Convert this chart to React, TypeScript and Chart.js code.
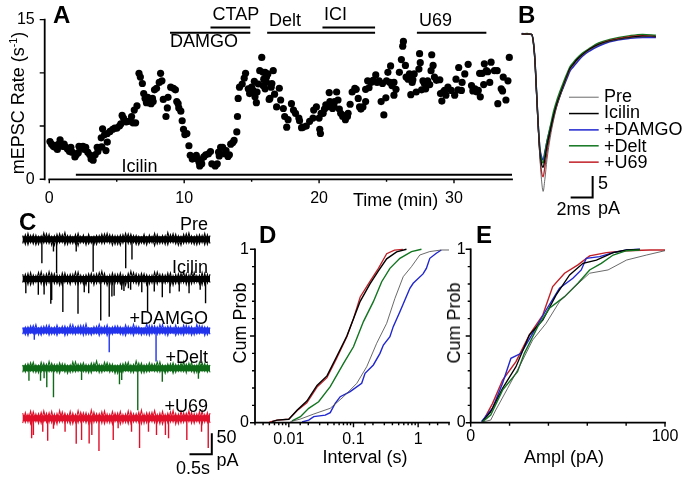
import React, { useEffect, useRef } from "react";
import Chart from "chart.js/auto";

const FONT = "'Liberation Sans', Arial, sans-serif";
const GUTTER = 40;

// ---------- Panel A: mEPSC rate over time [min, events/s]
const ratePoints: number[][] = [
  [0.05,3.55],[0.17,3.3],[0.3,3.1],[0.42,3.0],[0.5,3.2],[0.6,2.8],[0.7,3.3],[0.8,3.7],[0.95,3.25],[1.0,3.1],[1.1,3.3],[1.2,3.05],[1.35,2.85],[1.5,2.6],[1.6,3.0],[1.7,2.55],[1.9,2.1],[2.0,2.3],[2.15,2.5],[2.2,3.1],[2.35,3.05],[2.5,3.1],[2.6,2.8],[2.7,3.0],[2.85,2.55],[3.0,2.3],[3.1,1.9],[3.25,1.8],[3.4,2.3],[3.55,3.0],[3.6,2.6],[3.75,3.0],[3.9,3.05],[4.2,2.7],[4.3,3.5],[3.85,3.9],[3.95,4.75],[4.1,4.2],[4.3,4.3],[4.5,4.5],[4.7,4.7],[4.85,4.8],[5.0,4.8],[5.2,5.0],[5.3,5.2],[5.4,6.0],[5.5,5.75],[5.7,5.4],[5.85,5.45],[6.0,5.5],[6.1,5.9],[6.2,5.3],[6.4,5.3],[6.3,6.5],[6.5,6.9],[6.65,9.95],[6.75,9.6],[6.9,9.0],[7.0,8.05],[7.1,7.6],[7.2,7.2],[7.3,7.7],[7.4,7.2],[7.55,7.1],[7.65,7.6],[7.7,7.3],[7.8,8.4],[7.95,8.55],[8.15,9.1],[8.25,9.95],[8.35,9.25],[8.45,7.5],[8.65,5.9],[8.75,6.7],[8.8,7.7],[9.0,8.65],[9.2,8.55],[9.35,8.4],[9.45,7.3],[9.55,7.1],[9.6,6.7],[9.75,6.4],[9.85,5.5],[9.95,4.7],[10.05,4.2],[10.2,4.3],[10.35,3.15],[10.45,2.25],[10.6,1.9],[10.8,2.0],[10.9,2.25],[11.0,1.9],[11.1,1.6],[11.15,1.25],[11.25,1.8],[11.3,1.45],[11.45,2.1],[11.6,2.3],[11.8,2.4],[11.95,2.6],[12.05,1.45],[12.3,1.25],[12.45,1.45],[12.55,2.55],[12.6,2.2],[12.7,3.0],[12.85,3.0],[13.0,2.4],[13.1,2.7],[13.25,2.15],[13.35,2.3],[13.45,3.3],[13.6,3.45],[13.7,3.65],[13.9,4.45],[13.95,5.9],[14.0,7.6],[14.1,8.65],[14.3,8.95],[14.45,9.5],[14.55,9.95],[14.75,8.5],[14.85,8.05],[15.0,8.65],[15.1,8.35],[15.2,9.2],[15.25,7.75],[15.35,7.2],[15.4,8.2],[15.5,8.95],[15.6,10.2],[15.75,11.45],[15.85,10.05],[15.9,9.4],[16.0,8.5],[16.1,9.6],[16.3,7.5],[16.2,9.9],
  [15.85,8.8],[16.0,10.05],[16.1,9.1],[16.35,7.6],[16.45,8.65],[16.5,9.0],[16.6,10.2],[16.7,8.0],[16.85,6.8],[17.05,8.55],[17.15,7.45],[17.35,6.65],[17.45,5.9],[17.7,5.6],[17.6,4.9],[17.95,7.1],[18.1,6.5],[18.25,6.2],[18.5,5.75],[18.55,5.5],[18.7,4.85],[18.8,4.9],[19.05,5.0],[19.3,5.45],[19.55,5.75],[19.6,6.5],[19.8,6.8],[20.0,5.75],[20.15,6.2],[20.05,4.7],[20.1,4.3],[20.3,6.2],[20.4,6.6],[20.5,7.0],[20.6,6.8],[20.75,8.15],[20.8,7.3],[20.9,7.0],[21.0,6.65],[21.1,6.9],[21.15,7.3],[21.3,8.2],[21.4,7.45],[21.5,6.6],[21.6,6.2],[21.75,5.9],[21.95,5.6],[22.1,5.9],[22.15,6.2],[22.0,6.0],[22.3,7.05],[22.45,8.2],[22.65,8.55],[22.75,8.45],[22.9,7.6],[23.0,6.8],[23.1,6.6],[23.25,6.8],[23.45,7.3],[23.6,9.25],[23.7,8.6],[23.45,8.45],[23.85,9.1],[24.0,9.3],[24.2,9.8],[24.3,9.1],[24.45,9.25],[24.7,9.0],[24.8,6.05],[24.6,7.3],[24.95,7.65],[25.1,10.05],[25.3,10.65],[25.0,9.25],[25.25,9.1],[25.4,8.8],[25.55,9.1],[25.7,8.45],[25.55,7.9],[25.95,10.05],[26.1,11.25],[26.4,10.7],[26.2,12.5],[26.25,12.95],[26.45,9.6],[26.6,9.4],[26.7,9.9],[26.9,9.1],[26.95,9.35],[26.8,7.95],[27.2,8.2],[27.05,9.9],[27.4,10.35],[27.5,10.95],[27.45,11.8],[27.6,8.4],[27.7,9.25],[27.8,9.0],[27.9,8.5],[28.05,9.25],[28.2,8.9],[28.35,11.7],[28.45,10.7],[28.3,10.2],[28.55,9.6],[28.7,9.3],[28.95,9.35],[29.0,8.05],[29.1,7.35],[29.2,8.2],[29.3,8.35],[29.4,7.9],[29.55,8.65],[29.8,8.35],[30.05,7.9],[30.15,9.4],[30.3,8.4],[30.35,10.5],[30.55,8.35],[30.6,9.1],[30.8,9.9],[31.05,10.8],[31.3,8.8],[31.4,8.3],[31.55,8.5],[31.7,8.2],[31.8,8.35],[31.9,9.95],[32.1,9.95],[31.95,7.75],[32.2,8.9],[32.25,10.85],[32.4,10.2],[32.5,10.1],[32.75,11.0],[32.65,9.1],[33.0,10.2],[33.2,10.2],[33.25,7.1],[33.6,8.3],[33.65,9.6],[33.85,7.45],[33.5,8.5],[34.0,9.25],[34.1,11.45],
];
// drug bars: start, end, level
const drugBars: number[][] = [
  [1.97,34.3,0.42],[8.95,14.9,13.76],[11.95,14.9,14.25],[16.15,24.15,13.76],[20.25,24.15,14.25],[27.25,32.4,13.76],
];

// ---------- Panel B: averaged currents (ms, pA)
const avgTime = [0,0.5,0.9,1.05,1.2,1.35,1.5,1.65,1.8,1.95,2.1,2.3,2.6,2.9,3.2,3.5,3.8,4.1,4.4,4.7,5,5.5,6.2,7,8,9.85,11,12.2];
const avgPre = [0,0,-0.1,-1.7,-6,-13.7,-21.5,-28.5,-33.9,-36.6,-33.9,-29.2,-24,-20,-16.8,-14.5,-12.3,-10.2,-8.3,-7.3,-6.4,-5,-3.7,-2.6,-1.7,-0.9,-0.7,-0.5];
const avgIcilin = [0,0,-0.1,-1.7,-6,-13.6,-21.3,-27.6,-30.2,-31,-29.2,-26,-22.4,-19,-16.2,-14,-11.9,-9.9,-8,-7,-6,-4.8,-3.5,-2.4,-1.6,-0.8,-0.5,-0.6];
const avgDamgo = [0.1,0,-0.1,-1.6,-5.9,-13.5,-21,-26.5,-28.5,-29.3,-27.5,-25,-21.8,-18.8,-16.4,-14.2,-12.3,-10.4,-8.6,-7.6,-6.7,-5.2,-3.9,-2.8,-1.8,-1,-0.8,-0.8];
const avgDelt = [0,0.1,-0.1,-1.7,-6,-13.5,-21,-26.8,-29.2,-30,-28,-25,-21.5,-18,-15.4,-13.2,-11.2,-9.3,-7.6,-6.6,-5.7,-4.5,-3.3,-2.1,-1.3,-0.4,-0.1,-0.3];
const avgU69 = [0,0,-0.1,-1.7,-6,-13.7,-21.5,-28,-32,-33.2,-31,-27.5,-23,-19.5,-16.5,-14.2,-12,-10,-8.1,-7.1,-6.1,-4.9,-3.5,-2.4,-1.5,-0.6,-0.4,-0.6];

// ---------- Panel C: example recordings (s, pA below baseline)
const spikesPre = [[0.43,57],[0.69,29],[0.76,81],[1.2,29],[1.58,77],[2.31,69],[2.45,48]];
const spikesIcilin = [[0.07,34],[0.35,38],[0.48,37],[0.63,59],[0.65,50],[0.9,79],[1.24,83],[1.38,32],[1.48,34],[1.75,99],[1.94,90],[2.0,42],[2.05,40],[2.22,26],[2.27,29],[2.37,22],[2.42,26],[2.67,32],[2.8,78],[2.95,30],[3.13,44],[3.3,34],[3.51,30],[3.73,34],[3.98,26],[4.1,58]];
const spikesDamgo = [[0.26,22],[1.94,52],[2.99,74]];
const spikesDelt = [[0.14,30],[0.4,30],[0.48,24],[0.54,45],[0.69,69],[1.32,28],[2.17,38],[2.22,28],[2.58,100],[3.13,32],[3.94,25]];
const spikesU69 = [[0.2,48],[0.24,40],[0.45,32],[0.56,54],[0.69,25],[0.95,32],[1.2,61],[1.32,52],[1.49,60],[1.55,40],[1.71,78],[2.03,52],[2.14,24],[2.44,32],[2.62,71],[2.82,32],[3.0,40],[3.2,40],[3.27,48],[3.68,52],[4.01,32],[4.16,71]];
const noisePre = [9,-12,14,-8,11,-13,7,-10,15,-9,12,-14,8,-11,13,-7,16,-12,9,-10,11,-15,7,-9,6,-11,5,-13,9,-8,12,-10,14,-9,10,-12,8,-14,11,-7,13,-10,9,-12,7,-9,12,-13,10,-8,14,-11,6,-10,9,-13,11,-8,12,-14,7,-10,13,-9,8,-12,10,-11,9,-13,11,-10];
const noiseIcilin = [11,-10,13,-14,9,-8,15,-12,10,-13,17,-9,12,-11,8,-15,14,-10,11,-7,16,-13,9,-12,10,-8,13,-14,12,-9,18,-11,7,-13,14,-10,11,-12,9,-15,13,-8,15,-11,10,-9,12,-14,8,-10,16,-12,11,-13,9,-8,14,-15,10,-11,13,-9,12,-14,17,-10,8,-12,15,-13,11,-9];
const noiseDamgo = [7,-10,9,-6,12,-8,6,-11,10,-7,13,-9,8,-12,7,-6,11,-10,14,-8,9,-7,12,-11,16,-9,6,-8,10,-12,8,-7,13,-10,9,-6,11,-9,7,-12,10,-8,15,-7,9,-11,6,-10,12,-8,11,-9,14,-7,8,-12,10,-6,13,-9,7,-11,12,-8,9,-10,14,-7,11,-12,8,-9];
const noiseDelt = [8,-9,11,-6,14,-10,7,-8,12,-11,16,-7,9,-10,13,-6,10,-12,8,-9,15,-7,11,-8,9,-11,12,-6,17,-10,8,-7,13,-9,10,-12,7,-8,11,-6,14,-10,9,-7,12,-11,8,-9,13,-6,10,-8,15,-10,7,-9,11,-12,9,-7,12,-8,10,-6,14,-11,8,-9,13,-7,9,-10];
const noiseU69 = [12,-10,9,-13,15,-8,11,-12,17,-9,13,-11,10,-14,18,-9,12,-10,16,-13,9,-11,14,-8,13,-12,19,-10,11,-9,15,-13,10,-11,16,-8,12,-14,9,-10,17,-12,11,-9,14,-13,10,-11,13,-8,18,-10,12,-14,9,-11,15,-9,11,-13,16,-10,12,-8,14,-12,10,-11,17,-9,13,-12];
const baselines = [-81.7,-176,-299,-388.8,-507.8];

// ---------- Panel D: cumulative intervals (s, probability)
const ivIcilinX = [0.0055,0.0066,0.01,0.0135,0.019,0.0273,0.0389,0.0555,0.079,0.1,0.127,0.18,0.243,0.326,0.465,0.66];
const ivIcilinY = [0.006,0.015,0.02,0.073,0.125,0.215,0.27,0.385,0.5,0.6,0.7,0.8,0.875,0.945,0.985,1];
const ivU69X = [0.005,0.0066,0.01,0.0135,0.019,0.0273,0.0389,0.0555,0.079,0.1,0.127,0.18,0.243,0.326,0.43,0.58];
const ivU69Y = [0.004,0.015,0.02,0.07,0.115,0.205,0.26,0.375,0.496,0.6,0.725,0.815,0.89,0.975,0.995,1];
const ivDeltX = [0.0112,0.0151,0.0203,0.0289,0.0437,0.0702,0.1,0.1425,0.203,0.273,0.366,0.522,0.789,1.125];
const ivDeltY = [0.01,0.035,0.083,0.121,0.208,0.342,0.438,0.583,0.698,0.813,0.89,0.948,0.987,1];
const ivPreX = [0.0106,0.0151,0.0243,0.0437,0.0702,0.1125,0.1603,0.2285,0.326,0.4375,0.5875,0.789,1.06,1.514,2.285,3];
const ivPreY = [0.006,0.021,0.05,0.083,0.15,0.227,0.323,0.458,0.573,0.717,0.842,0.9,0.967,0.987,0.996,0.996];
const ivDamgoX = [0.016,0.0203,0.0243,0.0366,0.0437,0.0522,0.0624,0.0888,0.134,0.151,0.203,0.257,0.29,0.366,0.412,0.522,0.624,0.745,0.838,1.19,1.34,1.514,1.91,2.285];
const ivDamgoY = [0.004,0.015,0.035,0.044,0.058,0.112,0.15,0.179,0.227,0.285,0.333,0.4,0.448,0.496,0.554,0.64,0.708,0.775,0.804,0.858,0.89,0.948,0.977,0.996];

// ---------- Panel E: cumulative amplitudes (pA, probability)
const ampPreX = [6,10.3,12.9,19,25.9,31.9,38.8,45.7,52.6,61.2,70.7,80.2,90.5,100];
const ampPreY = [0.004,0.015,0.073,0.198,0.342,0.477,0.573,0.698,0.775,0.862,0.881,0.938,0.967,0.992];
const ampDeltX = [6,10.3,16.4,24.1,27.6,34.5,40.5,48.3,55.2,61.2,67.2,73.3,80.2,87.1];
const ampDeltY = [0.004,0.044,0.188,0.294,0.4,0.554,0.66,0.727,0.804,0.881,0.919,0.967,0.992,0.996];
const ampIcilinX = [6,10.3,16.4,23.3,30.2,37.1,44,50.9,57.8,64.7,73.3,80.2,87.1];
const ampIcilinY = [0.006,0.063,0.198,0.323,0.506,0.592,0.737,0.852,0.919,0.938,0.981,0.996,1];
const ampDamgoX = [5.5,11.2,16.4,20.7,25.9,31.9,38.8,45.7,52.6,56.9,59.5,66.4,73.3,80.2,87.1];
const ampDamgoY = [0.006,0.083,0.227,0.371,0.4,0.515,0.65,0.775,0.833,0.881,0.948,0.958,0.981,0.996,1];
const ampU69X = [6,11.2,16.4,23.3,30.2,37.1,42.2,48.3,55.2,61.2,69.8,80.2,92.2,100];
const ampU69Y = [0.002,0.11,0.246,0.352,0.506,0.621,0.785,0.862,0.91,0.962,0.981,0.992,0.996,0.996];

const COL = { pre: "#444", icilin: "#000", damgo: "#2026d0", delt: "#11751f", u69: "#c01f26" };
const TRACE = { damgo: "#2233ee", delt: "#0f6a18", u69: "#e0102a" };

type Lab = { t: React.ReactNode; x: number; y: number; s?: number; b?: boolean; a?: "s" | "m" | "e"; r?: boolean };
const labels: Lab[] = [
  { t: "A", x: 53, y: 15, s: 24, b: true },
  { t: "B", x: 518, y: 15, s: 24, b: true },
  { t: "C", x: 19, y: 222, s: 24, b: true },
  { t: "D", x: 259, y: 235, s: 24, b: true },
  { t: "E", x: 476, y: 235, s: 24, b: true },
  { t: <>mEPSC Rate (s<sup style={{ fontSize: "0.6em", lineHeight: 0 }}>-1</sup>)</>, x: 18, y: 103, r: true, a: "m" },
  { t: "CTAP", x: 212.5, y: 14 },
  { t: "DAMGO", x: 170, y: 41 },
  { t: "Icilin", x: 121.5, y: 165.5 },
  { t: "Delt", x: 269, y: 20 },
  { t: "ICI", x: 324, y: 14 },
  { t: "U69", x: 419, y: 20 },
  { t: "Time (min)", x: 353, y: 200 },
  { t: "Pre", x: 604, y: 96 },
  { t: "Icilin", x: 604, y: 112 },
  { t: "+DAMGO", x: 604, y: 128.5 },
  { t: "+Delt", x: 604, y: 145.5 },
  { t: "+U69", x: 604, y: 162 },
  { t: "5", x: 598, y: 183 },
  { t: "2ms", x: 556.5, y: 209 },
  { t: "pA", x: 598, y: 208 },
  { t: "Pre", x: 208, y: 224, a: "e" },
  { t: "Icilin", x: 208, y: 266.5, a: "e" },
  { t: "+DAMGO", x: 208, y: 317.5, a: "e" },
  { t: "+Delt", x: 208, y: 356.5, a: "e" },
  { t: "+U69", x: 208, y: 405.5, a: "e" },
  { t: "50", x: 216.5, y: 436.5 },
  { t: "pA", x: 216.5, y: 460 },
  { t: "0.5s", x: 176, y: 468 },
  { t: "Cum Prob", x: 240, y: 323, r: true, a: "m" },
  { t: "Interval (s)", x: 365, y: 456.5, a: "m" },
  { t: "Cum Prob", x: 453.5, y: 323, r: true, a: "m" },
  { t: "Ampl (pA)", x: 564, y: 456.5, a: "m" },
];

const zip = (xs: number[], ys: number[]) => xs.map((x, i) => ({ x, y: ys[i] }));
const line = (data: any[], color: string, width = 1.4, smooth = false) => ({
  data, borderColor: color, borderWidth: width, showLine: true, pointRadius: 0, clip: false, tension: 0, borderCapStyle: "butt",
  ...(smooth ? { cubicInterpolationMode: "monotone" } : {}),
});

type Rect = { l: number; t: number; r: number; b: number };
const frame = (rc: Rect) => ({
  autoPadding: false,
  padding: { left: rc.l - GUTTER, right: 685 - rc.r, top: rc.t, bottom: 480 - rc.b - GUTTER },
});
const fitX = (s: any) => { s.height = GUTTER; };
const fitY = (s: any) => { s.width = GUTTER; };

const axisMarks = (xLen: (v: number) => number, yLen: (v: number) => number, xFrom?: number) => ({
  id: "axisMarks",
  afterDatasetsDraw(chart: any) {
    const { ctx, chartArea: a, scales } = chart;
    const x = scales.x, y = scales.y;
    ctx.save();
    ctx.strokeStyle = "#000";
    ctx.lineWidth = 1.8;
    ctx.lineCap = "square";
    ctx.beginPath();
    ctx.moveTo(a.left, a.top); ctx.lineTo(a.left, a.bottom);
    ctx.moveTo(xFrom === undefined ? a.left : x.getPixelForValue(xFrom), a.bottom); ctx.lineTo(a.right, a.bottom);
    ctx.stroke();
    ctx.lineWidth = 1.4;
    ctx.lineCap = "butt";
    ctx.beginPath();
    x.ticks.forEach((t: any) => {
      const len = xLen(t.value);
      if (!len) return;
      const p = x.getPixelForValue(t.value);
      ctx.moveTo(p, a.bottom); ctx.lineTo(p, a.bottom + len);
    });
    y.ticks.forEach((t: any) => {
      const len = yLen(t.value);
      if (!len) return;
      const p = y.getPixelForValue(t.value);
      ctx.moveTo(a.left, p); ctx.lineTo(a.left - len, p);
    });
    ctx.stroke();
    ctx.restore();
  },
});

const baseOpts = (rc: Rect, scales: any) => ({
  responsive: false, animation: false as const, devicePixelRatio: 1, events: [] as string[],
  layout: frame(rc),
  plugins: { legend: { display: false }, tooltip: { enabled: false } },
  scales,
});
const tickFont = { family: FONT, size: 16 };
const axisCommon = { grid: { display: false, drawTicks: false }, border: { display: false } };
const isClose = (a: number, b: number) => Math.abs(a - b) < 1e-6;

function buildAll(cv: HTMLCanvasElement[]) {
  const charts: Chart[] = [];
  // A
  const rA = { l: 44.7, t: 15.7, r: 512, b: 179.3 };
  charts.push(new Chart(cv[0], {
    type: "scatter",
    data: { datasets: [
      { data: ratePoints.map(([x, y]) => ({ x, y })), backgroundColor: "#000", borderColor: "#000", pointRadius: 3.6, pointBorderWidth: 0, clip: false, showLine: false },
      ...drugBars.map(([a, b, y]) => line([{ x: a, y }, { x: b, y }], "#000", 2)),
    ] as any },
    plugins: [axisMarks((v) => (isClose(v % 10, 0) ? 4 : 2.5), () => 5, 0)],
    options: baseOpts(rA, {
      x: { ...axisCommon, type: "linear", min: -0.34, max: 34.3, afterFit: fitX,
        ticks: { stepSize: 5, autoSkip: false, maxRotation: 0, padding: 10, color: "#000", font: tickFont,
          includeBounds: false, callback: (v: number) => (v % 10 === 0 ? String(v) : "") } },
      y: { ...axisCommon, type: "linear", min: 0, max: 15, afterFit: fitY,
        ticks: { stepSize: 5, autoSkip: false, padding: 10, color: "#000", font: tickFont,
          callback: (v: number) => (v === 0 || v === 15 ? String(v) : "") } },
    }) as any,
  }));
  // B
  const rB = { l: 521.7, t: 34, r: 656, b: 210 };
  const legendKeys = [[-14.7, COL.pre, 0.8], [-18.5, COL.icilin, 1.5], [-22.3, COL.damgo, 1.5], [-26, COL.delt, 1.5], [-29.8, COL.u69, 1.5]] as [number, string, number][];
  charts.push(new Chart(cv[1], {
    type: "scatter",
    data: { datasets: [
      line(zip(avgTime, avgPre), COL.pre, 0.8, true),
      line(zip(avgTime, avgIcilin), COL.icilin, 1.3, true),
      line(zip(avgTime, avgU69), COL.u69, 1.3, true),
      line(zip(avgTime, avgDelt), COL.delt, 1.5, true),
      line(zip(avgTime, avgDamgo), COL.damgo, 1.5, true),
      ...legendKeys.map(([y, c, w]) => line([{ x: 4.3, y }, { x: 7.0, y }], c, w)),
      line([{ x: 4.45, y: -38 }, { x: 6.45, y: -38 }, { x: 6.45, y: -33 }], "#000", 2),
    ] as any },
    options: baseOpts(rB, {
      x: { ...axisCommon, type: "linear", min: 0, max: 12.21, afterFit: fitX, ticks: { display: false } },
      y: { ...axisCommon, type: "linear", min: -40.93, max: 0, afterFit: fitY, ticks: { display: false } },
    }) as any,
  }));
  // C
  const rC = { l: 22.7, t: 205, r: 225, b: 480 };
  const traces: [number[], number[][], string][] = [
    [noisePre, spikesPre, "#000"], [noiseIcilin, spikesIcilin, "#000"], [noiseDamgo, spikesDamgo, TRACE.damgo],
    [noiseDelt, spikesDelt, TRACE.delt], [noiseU69, spikesU69, TRACE.u69],
  ];
  const cSets: any[] = [];
  traces.forEach(([noise, spikes, color], k) => {
    const base = baselines[k];
    cSets.push(line([{ x: 0, y: base }, { x: 4.2, y: base }], color, 6));
    cSets.push(line(noise.map((n, i) => ({ x: (i / (noise.length - 1)) * 4.2, y: base + n })), color, 1.1));
    cSets.push(line([...noise].reverse().map((n, i) => ({ x: (i / (noise.length - 1)) * 4.2, y: base + n })), color, 1.1));
    cSets.push(line(spikes.flatMap(([t, amp]) => [{ x: t, y: base }, { x: t, y: base - amp }, { x: t, y: base }]), color, 1.4));
  });
  cSets.push(line([{ x: 3.74, y: -593.6 }, { x: 4.24, y: -593.6 }, { x: 4.24, y: -543.6 }], "#000", 2));
  charts.push(new Chart(cv[2], {
    type: "scatter",
    data: { datasets: cSets },
    options: baseOpts(rC, {
      x: { ...axisCommon, type: "linear", min: 0, max: 4.536, afterFit: fitX, ticks: { display: false } },
      y: { ...axisCommon, type: "linear", min: -655, max: 0, afterFit: fitY, ticks: { display: false } },
    }) as any,
  }));
  // D
  const yProb = (pad: number) => ({
    ...axisCommon, type: "linear", min: 0, max: 1, afterFit: fitY,
    ticks: { stepSize: 0.1, autoSkip: false, padding: pad, color: "#000", font: tickFont,
      callback: (v: number) => (isClose(v, 0) ? "0" : isClose(v, 1) ? "1" : "") },
  });
  const yLenProb = (v: number) => (isClose(v, 0) || isClose(v, 0.5) || isClose(v, 1) ? 5 : 3);
  const isDecade = (v: number) => isClose(Math.log10(v), Math.round(Math.log10(v)));
  const rD = { l: 255, t: 249.3, r: 449, b: 422.7 };
  charts.push(new Chart(cv[3], {
    type: "scatter",
    data: { datasets: [
      line(zip(ivPreX, ivPreY), COL.pre, 0.8),
      line(zip(ivDamgoX, ivDamgoY), COL.damgo, 1.4),
      line(zip(ivDeltX, ivDeltY), COL.delt, 1.4),
      line(zip(ivIcilinX, ivIcilinY), COL.icilin, 1.4),
      line(zip(ivU69X, ivU69Y), COL.u69, 1.3),
    ] as any },
    plugins: [axisMarks((v) => (isDecade(v) ? 4.5 : 2.5), yLenProb)],
    options: baseOpts(rD, {
      x: { ...axisCommon, type: "logarithmic", min: 0.003, max: 3, afterFit: fitX,
        ticks: { autoSkip: false, maxRotation: 0, padding: 7, color: "#000", font: tickFont,
          callback: (v: number) => (isDecade(v) ? String(v) : "") } },
      y: yProb(6),
    }) as any,
  }));
  // E
  const rE = { l: 470.7, t: 249.3, r: 665, b: 422.7 };
  charts.push(new Chart(cv[4], {
    type: "scatter",
    data: { datasets: [
      line(zip(ampPreX, ampPreY), COL.pre, 0.8),
      line(zip(ampDeltX, ampDeltY), COL.delt, 1.4),
      line(zip(ampIcilinX, ampIcilinY), COL.icilin, 1.3),
      line(zip(ampDamgoX, ampDamgoY), COL.damgo, 1.4),
      line(zip(ampU69X, ampU69Y), COL.u69, 1.4),
    ] as any },
    plugins: [axisMarks((v) => (isClose(v % 100, 0) ? 4 : 3), yLenProb)],
    options: baseOpts(rE, {
      x: { ...axisCommon, type: "linear", min: 0, max: 100, afterFit: fitX,
        ticks: { stepSize: 20, autoSkip: false, maxRotation: 0, padding: 4, color: "#000", font: tickFont,
          callback: (v: number) => (v === 0 || v === 100 ? String(v) : "") } },
      y: yProb(5),
    }) as any,
  }));
  return charts;
}

export default function App() {
  const refs = useRef<(HTMLCanvasElement | null)[]>([]);
  useEffect(() => {
    const charts = buildAll(refs.current as HTMLCanvasElement[]);
    return () => charts.forEach((c) => c.destroy());
  }, []);
  return (
    <div style={{ position: "absolute", left: 0, top: 0, width: 685, height: 480, background: "#fff", overflow: "hidden", fontFamily: FONT, color: "#000" }}>
      {[0, 1, 2, 3, 4].map((i) => (
        <canvas key={i} ref={(el) => { refs.current[i] = el; }} width={685} height={480}
          style={{ position: "absolute", left: 0, top: 0, display: "block" }} />
      ))}
      {labels.map((l, i) => {
        const tx = l.a === "m" ? "-50%" : l.a === "e" ? "-100%" : "0";
        return (
          <span key={i} style={{
            position: "absolute", left: l.x, top: l.y, fontSize: l.s ?? 18, fontWeight: l.b ? 700 : 400,
            lineHeight: 1, whiteSpace: "nowrap",
            transform: `translate(${tx},-50%)${l.r ? " rotate(-90deg)" : ""}`,
          }}>{l.t}</span>
        );
      })}
    </div>
  );
}
